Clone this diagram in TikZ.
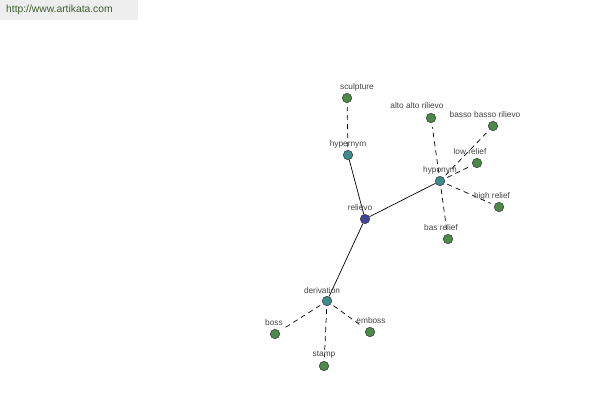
\documentclass[tikz,border=0pt]{standalone}
\usepackage{fontspec}
\setmainfont{Liberation Sans}
\usepackage{xcolor}
\definecolor{rootblue}{HTML}{43449A}
\definecolor{reltea}{HTML}{3C8C8E}
\definecolor{leafgreen}{HTML}{4B8B47}
\definecolor{labelgray}{HTML}{444444}
\definecolor{bannergray}{HTML}{EEEEEE}
\definecolor{bannertext}{HTML}{3E5E2E}

\begin{document}
\begin{tikzpicture}[x=1pt,y=-1pt,
	dot/.style={circle,draw=black!80,line width=0.5pt,inner sep=0pt,minimum size=9.5pt},
	word/.style={font=\fontsize{8.3}{9}\selectfont,text=labelgray,inner sep=0pt},
	link/.style={line width=0.7pt},
	linkd/.style={line width=0.7pt,dashed,dash pattern=on 5pt off 4pt}]
	
	% frame and banner
	\useasboundingbox (0,0) rectangle (600,400);
	\fill[bannergray] (0,0) rectangle (138,20);
	\node[font=\fontsize{10.3}{11}\selectfont,text=bannertext,anchor=west,inner sep=0pt] (site) at (6,10) {http://www.artikata.com};
	
	% nodes
	\node[dot,fill=rootblue] (relievo) at (365,219) {};
	\node[dot,fill=reltea] (hypernym) at (348,155) {};
	\node[dot,fill=reltea] (hyponym) at (440,181) {};
	\node[dot,fill=reltea] (derivation) at (327,301) {};
	\node[dot,fill=leafgreen] (sculpture) at (347,98) {};
	\node[dot,fill=leafgreen] (alto) at (431,118) {};
	\node[dot,fill=leafgreen] (basso) at (493,126) {};
	\node[dot,fill=leafgreen] (low) at (477,163) {};
	\node[dot,fill=leafgreen] (high) at (499,207) {};
	\node[dot,fill=leafgreen] (bas) at (448,239) {};
	\node[dot,fill=leafgreen] (boss) at (275,334) {};
	\node[dot,fill=leafgreen] (emboss) at (370,332) {};
	\node[dot,fill=leafgreen] (stamp) at (324,366) {};
	
	% connectors
	\draw[link] (relievo) -- (hypernym);
	\draw[link] (relievo) -- (hyponym);
	\draw[link] (relievo) -- (derivation);
	\draw[linkd,shorten <=3pt,shorten >=4pt] (hypernym) -- (sculpture);
	\draw[linkd,shorten <=3pt,shorten >=4pt] (hyponym) -- (alto);
	\draw[linkd,shorten <=3pt,shorten >=4pt] (hyponym) -- (basso);
	\draw[linkd,shorten <=3pt,shorten >=4pt] (hyponym) -- (low);
	\draw[linkd,shorten <=3pt,shorten >=4pt] (hyponym) -- (high);
	\draw[linkd,shorten <=3pt,shorten >=4pt] (hyponym) -- (bas);
	\draw[linkd,shorten <=3pt,shorten >=4pt] (derivation) -- (boss);
	\draw[linkd,shorten <=3pt,shorten >=4pt] (derivation) -- (emboss);
	\draw[linkd,shorten <=3pt,shorten >=4pt] (derivation) -- (stamp);
	
	% labels
	\node[word] (relievolbl) at (360,208) {relievo};
	\node[word] (hypernymlbl) at (348,144) {hypernym};
	\node[word] (hyponymlbl) at (440,170) {hyponym};
	\node[word] (derivationlbl) at (322,291) {derivation};
	\node[word] (sculpturelbl) at (357,87) {sculpture};
	\node[word] (altolbl) at (417,106) {alto alto rilievo};
	\node[word] (bassolbl) at (485,115) {basso basso rilievo};
	\node[word] (lowlbl) at (470,152) {low relief};
	\node[word] (highlbl) at (492,196) {high relief};
	\node[word] (baslbl) at (441,228) {bas relief};
	\node[word] (bosslbl) at (274,323) {boss};
	\node[word] (embosslbl) at (371,321) {emboss};
	\node[word] (stamplbl) at (324,355) {stamp};
	
\end{tikzpicture}
\end{document}
